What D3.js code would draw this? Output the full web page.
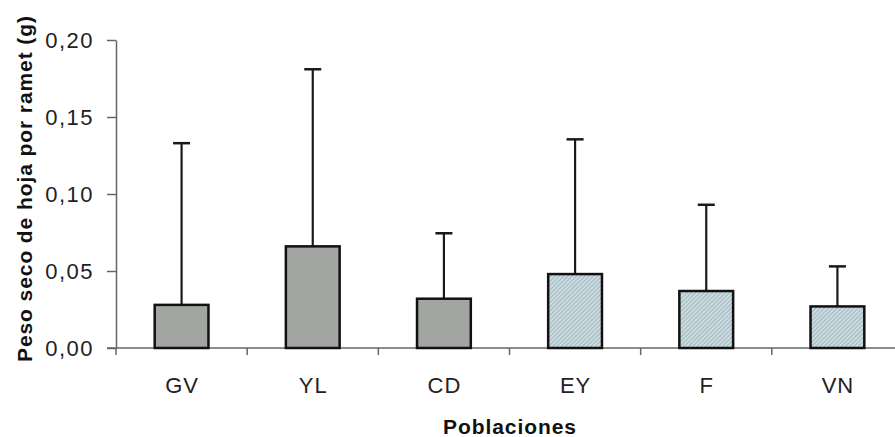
<!DOCTYPE html>
<html>
<head>
<meta charset="utf-8">
<script src="https://cdn.jsdelivr.net/npm/d3@7"></script>
<style>
  body { margin: 0; background: #fff; }
  svg { display: block; font-family: Arial, "Liberation Sans", sans-serif; }
</style>
</head>
<body>
<div id="chart"></div>
<script>
const categories = ["GV", "YL", "CD", "EY", "F", "VN"];
const means = [0.028, 0.066, 0.032, 0.048, 0.037, 0.027];
const errors = [0.105, 0.115, 0.0425, 0.0875, 0.056, 0.026];
const groups = ["a", "a", "a", "b", "b", "b"];
const yTicks = [0, 0.05, 0.10, 0.15, 0.20];

const data = categories.map((c, i) => ({ cat: c, mean: means[i], err: errors[i], group: groups[i] }));

const fullWidth = 895;
const fullHeight = 437;
const margin = { top: 40, right: -8, bottom: 89, left: 116 };

const width = fullWidth - margin.left - margin.right;
const height = fullHeight - margin.top - margin.bottom;

const svg = d3.select("#chart")
  .append("svg")
  .attr("width", fullWidth)
  .attr("height", fullHeight);

// hatched fill for the second group
const defs = svg.append("defs");
const pat = defs.append("pattern")
  .attr("id", "hatch")
  .attr("patternUnits", "userSpaceOnUse")
  .attr("width", 3)
  .attr("height", 3)
  .attr("patternTransform", "rotate(45)");
pat.append("rect").attr("width", 3).attr("height", 3).attr("fill", "#cadde2");
pat.append("line")
  .attr("x1", 0).attr("y1", 0).attr("x2", 0).attr("y2", 3)
  .attr("stroke", "#8a9ba2").attr("stroke-width", 1.2);

const g = svg.append("g")
  .attr("transform", `translate(${margin.left},${margin.top})`);

const x = d3.scaleBand()
  .domain(categories)
  .range([0, width])
  .paddingInner(0.59)
  .paddingOuter(0.295);

const y = d3.scaleLinear()
  .domain([0, 0.20])
  .range([height, 0]);

const axisColor = "#666";

// y axis
const yAxis = d3.axisLeft(y)
  .tickValues(yTicks)
  .tickFormat(d => d.toFixed(2).replace(".", ","))
  .tickSize(9)
  .tickSizeOuter(0)
  .tickPadding(13);

const yg = g.append("g").attr("class", "y axis").call(yAxis);
yg.select(".domain").attr("stroke", axisColor).attr("stroke-width", 1.5);
yg.selectAll(".tick line").attr("stroke", axisColor).attr("stroke-width", 1.5);
yg.selectAll(".tick text").attr("font-size", 22).attr("fill", "#222")
  .attr("font-family", "Arial, 'Liberation Sans', sans-serif")
  .attr("letter-spacing", 1.5);

// x axis line and boundary ticks
g.append("line")
  .attr("x1", -9).attr("x2", width)
  .attr("y1", height).attr("y2", height)
  .attr("stroke", axisColor).attr("stroke-width", 1.5);

const boundaries = d3.range(categories.length + 1).map(i => i * x.step());
g.selectAll("line.xtick")
  .data(boundaries)
  .enter()
  .append("line")
  .classed("xtick", true)
  .attr("x1", d => d).attr("x2", d => d)
  .attr("y1", height).attr("y2", height + 7)
  .attr("stroke", axisColor).attr("stroke-width", 1.5);

g.selectAll("text.xlabel")
  .data(categories)
  .enter()
  .append("text")
  .classed("xlabel", true)
  .attr("x", d => x(d) + x.bandwidth() / 2 + 0.5)
  .attr("y", height + 45)
  .attr("text-anchor", "middle")
  .attr("font-size", 22)
  .attr("letter-spacing", 1)
  .attr("fill", "#222")
  .text(d => d);

// error bars
const cap = 17;
const eg = g.append("g").classed("errors", true);
eg.selectAll("line.stem")
  .data(data)
  .enter()
  .append("line")
  .classed("stem", true)
  .attr("x1", d => x(d.cat) + x.bandwidth() / 2)
  .attr("x2", d => x(d.cat) + x.bandwidth() / 2)
  .attr("y1", d => y(d.mean))
  .attr("y2", d => y(d.mean + d.err))
  .attr("stroke", "#1a1a1a").attr("stroke-width", 2.2);
eg.selectAll("line.cap")
  .data(data)
  .enter()
  .append("line")
  .classed("cap", true)
  .attr("x1", d => x(d.cat) + x.bandwidth() / 2 - cap / 2)
  .attr("x2", d => x(d.cat) + x.bandwidth() / 2 + cap / 2)
  .attr("y1", d => y(d.mean + d.err))
  .attr("y2", d => y(d.mean + d.err))
  .attr("stroke", "#1a1a1a").attr("stroke-width", 2.5);

// bars
g.append("g").classed("bar-holder", true)
  .selectAll("rect.bar")
  .data(data)
  .enter()
  .append("rect")
  .classed("bar", true)
  .attr("x", d => x(d.cat))
  .attr("width", x.bandwidth())
  .attr("y", d => y(d.mean))
  .attr("height", d => height - y(d.mean))
  .attr("fill", d => d.group === "a" ? "#a2a5a1" : "url(#hatch)")
  .attr("stroke", "#111")
  .attr("stroke-width", 2.5);

// axis titles
svg.append("text")
  .attr("x", margin.left + (x.step() * categories.length) / 2)
  .attr("y", 434)
  .attr("text-anchor", "middle")
  .attr("font-size", 21)
  .attr("font-weight", "bold")
  .attr("fill", "#111")
  .attr("textLength", 133)
  .attr("lengthAdjust", "spacing")
  .text("Poblaciones");

svg.append("text")
  .attr("transform", "translate(32,189) rotate(-90)")
  .attr("text-anchor", "middle")
  .attr("font-size", 21)
  .attr("font-weight", "bold")
  .attr("fill", "#111")
  .attr("textLength", 346)
  .attr("lengthAdjust", "spacing")
  .text("Peso seco de hoja por ramet (g)");
</script>
</body>
</html>
